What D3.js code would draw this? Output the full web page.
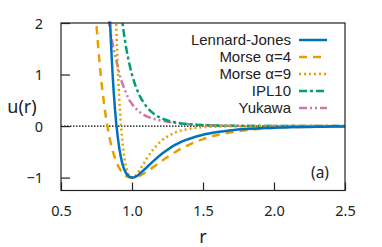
<!DOCTYPE html>
<html><head><meta charset="utf-8">
<script src="https://cdn.jsdelivr.net/npm/d3@7"></script>
<style>body{margin:0;background:#fff}svg{display:block}text{font-family:"Noto Sans",sans-serif;fill:#222}</style>
</head><body><svg id="c" width="382" height="247"></svg>
<script>
const rValues = [0.70,0.72,0.74,0.76,0.78,0.80,0.82,0.84,0.86,0.88,0.90,0.92,0.94,0.96,0.98,1.00,1.02,1.04,1.06,1.08,1.10,1.15,1.20,1.25,1.30,1.35,1.40,1.50,1.60,1.70,1.80,1.90,2.00,2.10,2.20,2.30,2.40,2.50];
const lennardJones = [null,null,null,null,10.8,6.92,4.24,2.41,1.17,0.33,-0.22,-0.58,-0.80,-0.92,-0.98,-1.00,-0.99,-0.96,-0.91,-0.86,-0.81,-0.68,-0.56,-0.46,-0.37,-0.30,-0.25,-0.168,-0.116,-0.081,-0.058,-0.042,-0.031,-0.023,-0.018,-0.0135,-0.0105,-0.008];
const morse4 = [4.38,3.26,2.35,1.60,0.99,0.50,0.11,-0.20,-0.44,-0.62,-0.76,-0.86,-0.93,-0.97,-0.993,-1.00,-0.994,-0.978,-0.955,-0.925,-0.891,-0.796,-0.697,-0.600,-0.512,-0.432,-0.363,-0.252,-0.173,-0.118,-0.080,-0.054,-0.036,-0.024,-0.016,-0.011,-0.007,-0.005];
const morse9 = [null,null,null,null,null,null,null,null,5.38,2.78,1.13,0.11,-0.49,-0.81,-0.961,-1.00,-0.973,-0.909,-0.826,-0.737,-0.648,-0.451,-0.303,-0.200,-0.130,-0.084,-0.054,-0.022,-0.009,-0.004,-0.0015,-0.0006,0,0,0,0,0,0];
const ipl10 = [null,null,null,null,null,null,null,null,null,null,2.868,2.30,1.857,1.504,1.224,1.00,0.820,0.676,0.558,0.463,0.386,0.247,0.1615,0.1074,0.0725,0.0497,0.0346,0.0173,0.0091,0.0050,0.0028,0.0016,0.001,0.0006,0.0004,0.0002,0.0002,0.0001];
const yukawa = [null,null,null,null,3.3,2.75,2.35,1.97,1.65,1.38,1.15,0.93,0.77,0.63,0.51,0.43,0.36,0.31,0.26,0.225,0.195,0.145,0.108,0.082,0.062,0.047,0.036,0.021,0.012,0.007,0.004,0.0025,0.0015,0.001,0.0006,0.0004,0.0002,0.0001];
const seriesNames = ["Lennard-Jones","Morse α=4","Morse α=9","IPL10","Yukawa"];
const xTicks = [0.5,1.0,1.5,2.0,2.5];
const yTicks = [-1,0,1,2];

const colors = ["#0072bd","#e69f00","#e69f00","#009e73","#cc79a7"];
const dashes = [null,"8,6","2,3","8,3,3,3","8,3,2,3,2,3"];
const allSeries = [lennardJones,morse4,morse9,ipl10,yukawa];

const svg = d3.select("#c");
const L=61,R=345,T=23,B=190.5;
const x = d3.scaleLinear().domain([0.5,2.5]).range([L,R]);
const y = d3.scaleLinear().domain([-1.25,2]).range([B,T]);

svg.append("clipPath").attr("id","clip").append("rect").attr("x",L).attr("y",T-1.5).attr("width",R-L).attr("height",B-T+1.5);

svg.append("line").attr("x1",L).attr("x2",R).attr("y1",y(0)).attr("y2",y(0))
  .attr("stroke","#000").attr("stroke-width",1.2).attr("stroke-dasharray","1.5,1.5");

const line = d3.line().defined(d=>d[1]!==null).x(d=>x(d[0])).y(d=>y(d[1])).curve(d3.curveMonotoneX);
const g = svg.append("g").attr("clip-path","url(#clip)");
[4,3,1,2,0].forEach(i=>{
  const pts = rValues.map((r,k)=>[r,allSeries[i][k]]);
  g.append("path").attr("d",line(pts)).attr("fill","none").attr("stroke",colors[i])
    .attr("stroke-width",2.5).attr("stroke-dasharray",dashes[i]);
});

svg.append("rect").attr("x",L).attr("y",T).attr("width",R-L).attr("height",B-T)
  .attr("fill","none").attr("stroke","#222").attr("stroke-width",1.2);

const xAxis = d3.axisBottom(x).tickValues(xTicks).tickSizeInner(-8).tickSizeOuter(0).tickPadding(17).tickFormat(d3.format(".1f"));
const xg = svg.append("g").attr("transform",`translate(0,${B})`).call(xAxis);
const yAxis = d3.axisLeft(y).tickValues(yTicks).tickSizeInner(-9).tickSizeOuter(0).tickPadding(18).tickFormat(d3.format("d"));
const yg = svg.append("g").attr("transform",`translate(${L},0)`).call(yAxis);
[xg,yg].forEach(a=>{
  a.select(".domain").remove();
  a.selectAll("line").attr("stroke","#222").attr("stroke-width",1.2);
  a.selectAll("text").attr("font-family","Noto Sans").attr("font-size",14.5).attr("fill","#333");
});
yg.selectAll("text").attr("dy","0.35em");
xg.selectAll("text").attr("dy","0.6em");

svg.append("text").attr("x",22).attr("y",y(0.38)).attr("text-anchor","middle").attr("dominant-baseline","central")
  .attr("font-size",18).text("u(r)");
svg.append("text").attr("x",x(1.5)).attr("y",236).attr("text-anchor","middle").attr("dominant-baseline","central")
  .attr("font-size",18).text("r");
svg.append("text").attr("x",320).attr("y",172).attr("text-anchor","middle").attr("dominant-baseline","central")
  .attr("font-size",15.5).text("(a)");

const ly0 = 40, ldy = 17;
seriesNames.forEach((n,i)=>{
  const yy = ly0 + i*ldy;
  svg.append("text").attr("x",291).attr("y",yy+5.2).attr("text-anchor","end")
    .style("font-family","'Liberation Sans',sans-serif").attr("font-size",15).attr("fill","#333").text(n);
  svg.append("line").attr("x1",299).attr("x2",327).attr("y1",yy).attr("y2",yy)
    .attr("stroke",colors[i]).attr("stroke-width",2.5).attr("stroke-dasharray",dashes[i]);
});
</script></body></html>
